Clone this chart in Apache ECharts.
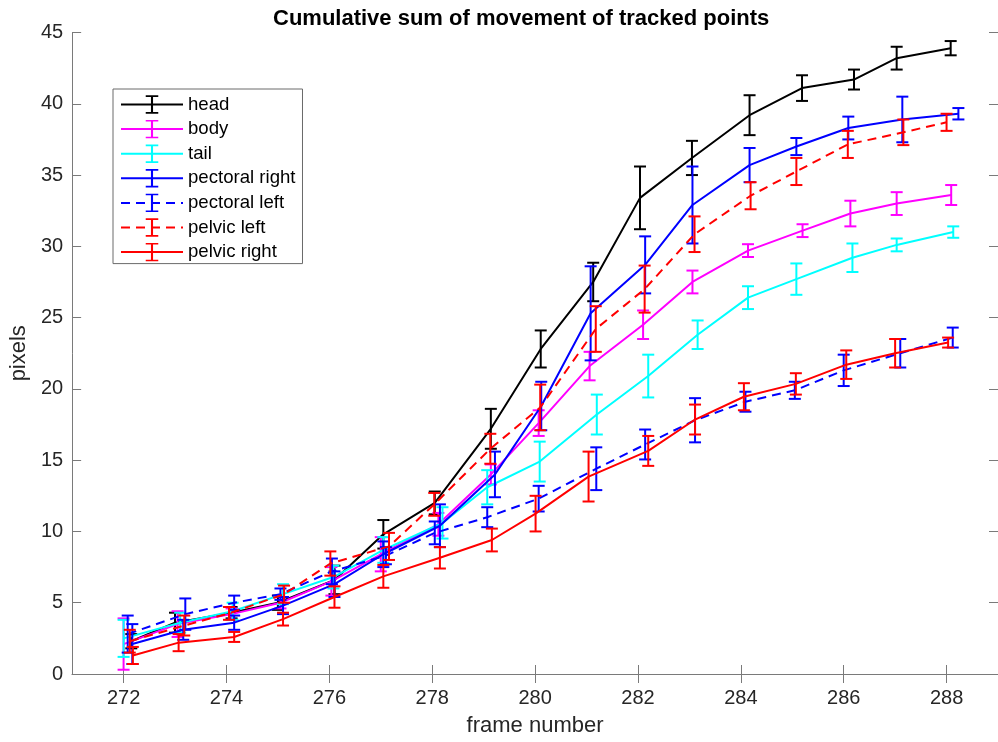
<!DOCTYPE html>
<html>
<head>
<meta charset="utf-8">
<title>Cumulative sum of movement of tracked points</title>
<script src="https://cdn.jsdelivr.net/npm/echarts@6/dist/echarts.min.js"></script>
<style>
  html, body { margin: 0; padding: 0; background: #fff; }
  #chart { width: 998px; height: 742px; }
</style>
</head>
<body>
<div id="chart"></div>
<script>
// tick labels
var xTicks = [272, 274, 276, 278, 280, 282, 284, 286, 288];
var yTicks = [0, 5, 10, 15, 20, 25, 30, 35, 40, 45];

var seriesNames = ['head', 'body', 'tail', 'pectoral right', 'pectoral left', 'pelvic left', 'pelvic right'];

// x positions of each point (frames, slightly offset per series as in the figure)
var headX = [272.15, 273.0, 274.1, 275.0, 276.1, 277.05, 278.05, 279.14, 280.11, 281.13, 282.04, 283.05, 284.17, 285.19, 286.2, 287.03, 288.08];
var bodyX = [272.0, 273.05, 274.1, 275.05, 276.04, 277.0, 278.12, 279.14, 280.07, 281.06, 282.1, 283.06, 284.14, 285.2, 286.13, 287.03, 288.09];
var tailX = [272.0, 273.1, 274.12, 275.1, 276.08, 277.05, 278.2, 279.07, 280.09, 281.2, 282.2, 283.16, 284.14, 285.08, 286.17, 287.03, 288.13];
var pectoralRightX = [272.17, 273.16, 274.15, 275.1, 276.1, 277.05, 278.15, 279.22, 280.12, 281.08, 282.14, 283.06, 284.17, 285.08, 286.09, 287.14, 288.23];
var pectoralLeftX = [272.08, 273.2, 274.15, 275.05, 276.05, 277.1, 278.05, 279.07, 280.07, 281.19, 282.14, 283.11, 284.09, 285.05, 286.0, 287.1, 288.12];
var pelvicLeftX = [272.12, 273.18, 274.05, 275.12, 276.02, 277.16, 278.04, 279.13, 280.1, 281.18, 282.13, 283.1, 284.19, 285.08, 286.08, 287.16, 288.0];
var pelvicRightX = [272.18, 273.07, 274.15, 275.1, 276.1, 277.05, 278.15, 279.16, 280.01, 281.04, 282.2, 283.11, 284.06, 285.07, 286.05, 287.0, 288.03];

// mean cumulative movement (pixels)
var headMean = [2.3, 3.6, 4.3, 5.0, 6.6, 9.8, 12.0, 17.2, 22.8, 27.5, 33.4, 36.2, 39.2, 41.1, 41.7, 43.2, 43.9];
var bodyMean = [2.1, 3.5, 4.2, 5.0, 6.5, 8.4, 10.5, 14.0, 17.6, 21.6, 24.5, 27.5, 29.7, 31.1, 32.3, 33.0, 33.6];
var tailMean = [2.5, 3.6, 4.4, 5.6, 6.8, 8.7, 10.6, 13.1, 14.9, 18.2, 20.9, 23.8, 26.4, 27.7, 29.2, 30.1, 31.0];
var pectoralRightMean = [2.1, 3.1, 3.6, 4.8, 6.3, 8.4, 10.4, 14.0, 18.8, 25.3, 28.7, 32.9, 35.7, 37.0, 38.3, 38.9, 39.3];
var pectoralLeftMean = [2.8, 4.2, 5.0, 5.6, 7.2, 8.3, 9.9, 11.0, 12.3, 14.4, 16.1, 17.8, 19.1, 19.9, 21.3, 22.5, 23.6];
var pelvicLeftMean = [2.3, 3.4, 4.25, 5.6, 7.75, 8.95, 11.9, 15.8, 18.7, 24.2, 27.0, 30.85, 33.55, 35.25, 37.15, 38.0, 38.7];
var pelvicRightMean = [1.3, 2.2, 2.6, 3.85, 5.4, 6.85, 8.15, 9.4, 11.25, 13.85, 15.65, 17.85, 19.45, 20.35, 21.7, 22.5, 23.25];

// half length of the error bars
var headErr = [0.5, 0.7, 0.4, 0.5, 1.0, 1.0, 0.8, 1.4, 1.3, 1.35, 2.2, 1.2, 1.4, 0.9, 0.7, 0.8, 0.5];
var bodyErr = [1.8, 0.9, 0.4, 0.4, 1.0, 1.2, 0.8, 0.7, 0.9, 1.0, 1.0, 0.8, 0.45, 0.45, 0.9, 0.8, 0.7];
var tailErr = [1.3, 0.7, 0.6, 0.7, 0.8, 0.9, 1.1, 1.2, 1.4, 1.4, 1.5, 1.0, 0.8, 1.1, 1.0, 0.45, 0.4];
var pectoralRightErr = [1.4, 0.7, 0.5, 0.6, 0.9, 0.9, 1.5, 1.6, 1.7, 3.3, 2.0, 2.7, 1.2, 0.6, 0.8, 1.6, 0.4];
var pectoralLeftErr = [1.3, 1.1, 0.5, 0.4, 0.9, 0.6, 0.8, 0.7, 0.9, 1.5, 1.05, 1.55, 0.7, 0.6, 1.1, 1.0, 0.7];
var pelvicLeftErr = [0.8, 0.7, 0.45, 0.6, 0.85, 0.95, 0.8, 1.05, 1.6, 1.6, 1.65, 1.25, 0.95, 0.95, 0.95, 0.9, 0.6];
var pelvicRightErr = [0.6, 0.6, 0.35, 0.45, 0.75, 0.8, 0.75, 0.8, 1.25, 1.75, 1.05, 1.05, 0.95, 0.75, 1.0, 1.0, 0.35];

var allX = [headX, bodyX, tailX, pectoralRightX, pectoralLeftX, pelvicLeftX, pelvicRightX];
var allMean = [headMean, bodyMean, tailMean, pectoralRightMean, pectoralLeftMean, pelvicLeftMean, pelvicRightMean];
var allErr = [headErr, bodyErr, tailErr, pectoralRightErr, pectoralLeftErr, pelvicLeftErr, pelvicRightErr];
var colors = ['#000000', '#ff00ff', '#00ffff', '#0000ff', '#0000ff', '#ff0000', '#ff0000'];
var dashed = [false, false, false, false, true, true, false];

// error bar glyph for the legend (empty points widen the box so the caps stay narrow)
var errIcon = 'path://M0,9L0,9M8.8,9L8.8,9M1.4,0H7.4V1.6H4.9V16.4H7.4V18H1.4V16.4H3.9V1.6H1.4Z';

var axisGray = '#7a7a7a';
var labelColor = '#262626';
var fontFamily = '"Liberation Sans", Arial, sans-serif';

function renderErrorBar(params, api) {
    var x = api.value(0);
    var lo = api.coord([x, api.value(1)]);
    var hi = api.coord([x, api.value(2)]);
    var w = 6;
    var style = { stroke: api.visual('color'), lineWidth: 2 };
    return {
        type: 'group',
        children: [
            { type: 'line', shape: { x1: lo[0], y1: lo[1], x2: hi[0], y2: hi[1] }, style: style },
            { type: 'line', shape: { x1: lo[0] - w, y1: lo[1], x2: lo[0] + w, y2: lo[1] }, style: style },
            { type: 'line', shape: { x1: hi[0] - w, y1: hi[1], x2: hi[0] + w, y2: hi[1] }, style: style }
        ]
    };
}

var series = [];
for (var i = 0; i < seriesNames.length; i++) {
    var lineData = [];
    var barData = [];
    for (var k = 0; k < allX[i].length; k++) {
        lineData.push([allX[i][k], allMean[i][k]]);
        barData.push([allX[i][k], allMean[i][k] - allErr[i][k], allMean[i][k] + allErr[i][k]]);
    }
    series.push({
        name: seriesNames[i],
        type: 'line',
        data: lineData,
        symbol: errIcon,
        showSymbol: false,
        color: colors[i],
        lineStyle: { width: 2, color: colors[i], type: dashed[i] ? [9, 6] : 'solid' },
        z: 2 + i
    });
    series.push({
        name: seriesNames[i],
        type: 'custom',
        data: barData,
        renderItem: renderErrorBar,
        encode: { x: 0, y: [1, 2] },
        itemStyle: { color: colors[i] },
        z: 2 + i
    });
}

var tickStyle = { show: true, inside: true, length: 9, lineStyle: { color: axisGray, width: 1 } };
var lineStyle = { show: true, lineStyle: { color: axisGray, width: 1 } };

var chart = echarts.init(document.getElementById('chart'));
chart.setOption({
    animation: false,
    backgroundColor: '#ffffff',
    textStyle: { fontFamily: fontFamily },
    title: {
        text: 'Cumulative sum of movement of tracked points',
        left: 273,
        top: 8,
        padding: 0,
        textStyle: { fontSize: 22, fontWeight: 'bold', color: '#000', fontFamily: fontFamily }
    },
    grid: { left: 68, top: 32.5, width: 934, height: 642 },
    legend: {
        orient: 'vertical',
        left: 113,
        top: 89,
        data: seriesNames,
        itemWidth: 62,
        itemHeight: 23,
        itemGap: 5.6,
        padding: [6, 7, 2, 7],
        borderColor: '#6a6a6a',
        borderWidth: 1,
        backgroundColor: '#ffffff',
        itemStyle: { borderWidth: 0 },
        textStyle: { fontSize: 18.6, color: '#000', fontFamily: fontFamily }
    },
    xAxis: [{
        type: 'value',
        min: 271,
        max: 289,
        name: 'frame number',
        nameLocation: 'middle',
        nameGap: 41,
        nameTextStyle: { fontSize: 22, color: labelColor },
        axisLine: lineStyle,
        axisTick: Object.assign({ customValues: xTicks }, tickStyle),
        axisLabel: { customValues: xTicks, fontSize: 20, color: labelColor, margin: 14 },
        splitLine: { show: false }
    }, {
        type: 'value',
        position: 'top',
        min: 271,
        max: 289,
        axisLine: lineStyle,
        axisTick: Object.assign({ customValues: xTicks }, tickStyle),
        axisLabel: { show: false },
        splitLine: { show: false }
    }],
    yAxis: [{
        type: 'value',
        min: 0,
        max: 45,
        interval: 5,
        name: 'pixels',
        nameLocation: 'middle',
        nameGap: 39,
        nameTextStyle: { fontSize: 22, color: labelColor },
        axisLine: lineStyle,
        axisTick: tickStyle,
        axisLabel: { fontSize: 20, color: labelColor, margin: 9 },
        splitLine: { show: false }
    }, {
        type: 'value',
        position: 'right',
        min: 0,
        max: 45,
        interval: 5,
        axisLine: lineStyle,
        axisTick: tickStyle,
        axisLabel: { show: false },
        splitLine: { show: false }
    }],
    series: series
});
</script>
</body>
</html>
